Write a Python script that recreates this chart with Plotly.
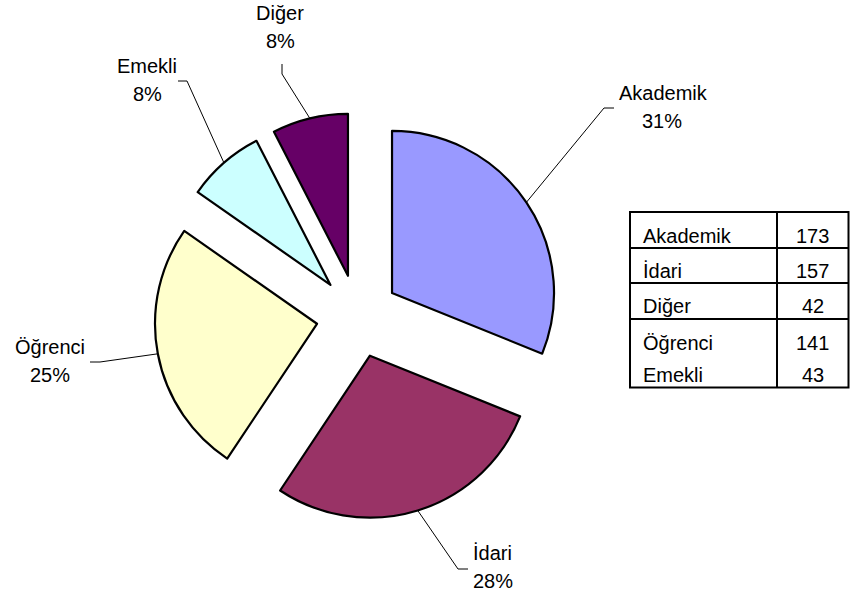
import math
import plotly.graph_objects as go

W, H = 850, 597

# ---- data ----
categories = ["Akademik", "İdari", "Öğrenci", "Emekli", "Diğer"]
values = [173, 157, 141, 43, 42]
colors = ["#9999FF", "#993366", "#FFFFCC", "#CCFFFF", "#660066"]

table_labels = ["Akademik", "İdari", "Diğer", "Öğrenci", "Emekli"]
table_values = [173, 157, 42, 141, 43]

# ---- layout constants (pixels) ----
CX, CY = 357.7, 316.1   # pie centre
R = 162.0               # pie radius
PULL = 0.2556           # explode fraction

# label layout: elbow point, end point, name centre, percent centre
label_layout = {
    "Akademik": ((604, 108), (614, 108), (663, 93), (662, 121)),
    "İdari":    ((458, 569), (468, 569), (493, 553), (493, 581)),
    "Öğrenci":  ((100, 362), (90, 362), (50, 347), (50, 375)),
    "Emekli":   ((187, 81), (178, 81), (147, 66), (147, 94)),
    "Diğer":    ((282, 74), (282, 64), (280, 13), (280, 41)),
}

FONT = "Liberation Sans, Arial, sans-serif"


def px(x):
    return x / W


def py(y):
    return 1 - y / H


half = R * (1 + PULL)
dom_x = [px(CX - half), px(CX + half)]
dom_y = [py(CY + half), py(CY - half)]

fig = go.Figure()
fig.add_trace(go.Pie(
    labels=categories,
    values=values,
    sort=False,
    direction="clockwise",
    rotation=0,
    pull=[PULL] * len(values),
    marker=dict(colors=colors, line=dict(color="black", width=2.2)),
    textinfo="none",
    hoverinfo="label+value+percent",
    showlegend=False,
    domain=dict(x=dom_x, y=dom_y),
))

shapes = []
annotations = []
total = sum(values)
cum = 0
for name, v in zip(categories, values):
    mid = 2 * math.pi * (cum + v / 2) / total
    cum += v
    ax = CX + half * math.sin(mid)
    ay = CY - half * math.cos(mid)
    elbow, end, tpos, ppos = label_layout[name]
    path = f"M {px(ax)},{py(ay)} L {px(elbow[0])},{py(elbow[1])} L {px(end[0])},{py(end[1])}"
    shapes.append(dict(type="path", xref="paper", yref="paper", path=path,
                       line=dict(color="black", width=1)))
    pct = round(100 * v / total)
    annotations.append(dict(x=px(tpos[0]), y=py(tpos[1]), xref="paper", yref="paper",
                            text=name, showarrow=False, xanchor="center", yanchor="middle",
                            font=dict(family=FONT, size=20, color="black")))
    annotations.append(dict(x=px(ppos[0]), y=py(ppos[1]), xref="paper", yref="paper",
                            text=f"{pct}%", showarrow=False, xanchor="center", yanchor="middle",
                            font=dict(family=FONT, size=20, color="black")))

# ---- table ----
TL, TR, TT, TB = 630, 848.5, 212, 387.5
TDIV = 777
row_lines = [248, 283, 319]
row_centres = [236, 271, 306, 343, 375]

shapes.append(dict(type="rect", xref="paper", yref="paper",
                   x0=px(TL), x1=px(TR), y0=py(TB), y1=py(TT),
                   line=dict(color="black", width=2), fillcolor="rgba(0,0,0,0)"))
shapes.append(dict(type="line", xref="paper", yref="paper",
                   x0=px(TDIV), x1=px(TDIV), y0=py(TB), y1=py(TT),
                   line=dict(color="black", width=2)))
for ly in row_lines:
    shapes.append(dict(type="line", xref="paper", yref="paper",
                       x0=px(TL), x1=px(TR), y0=py(ly), y1=py(ly),
                       line=dict(color="black", width=2)))
for lab, val, yc in zip(table_labels, table_values, row_centres):
    annotations.append(dict(x=px(641), y=py(yc), xref="paper", yref="paper",
                            text=lab, showarrow=False, xanchor="left", yanchor="middle",
                            font=dict(family=FONT, size=20, color="black")))
    annotations.append(dict(x=px((TDIV + TR) / 2), y=py(yc), xref="paper", yref="paper",
                            text=str(val), showarrow=False, xanchor="center", yanchor="middle",
                            font=dict(family=FONT, size=20, color="black")))

fig.update_layout(
    width=W, height=H,
    margin=dict(l=0, r=0, t=0, b=0),
    paper_bgcolor="white",
    plot_bgcolor="white",
    shapes=shapes,
    annotations=annotations,
)

fig.write_html("out.html",
               config={"displayModeBar": False},
               post_script="document.body.style.margin='0px';document.body.style.overflow='hidden';")
